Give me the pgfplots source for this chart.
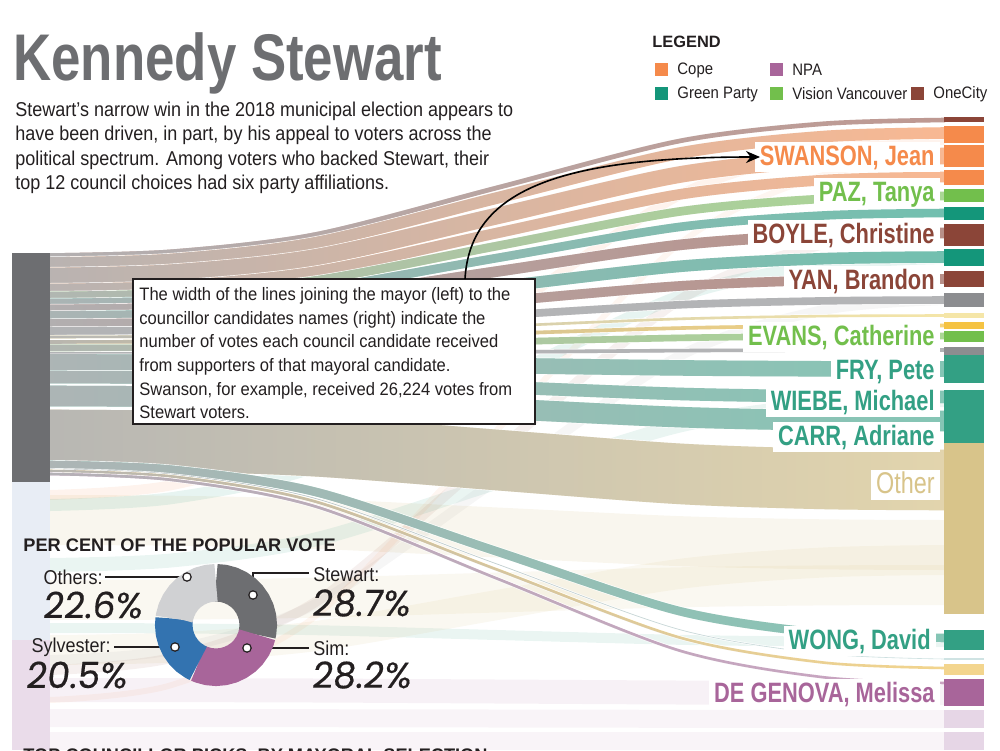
\documentclass[border=0pt]{standalone}
\usepackage{pgfplots}
\pgfplotsset{compat=1.18}
\usepgfplotslibrary{polar}
\usetikzlibrary{fadings,arrows.meta}
\usepackage{fontspec}
\setmainfont{Liberation Sans}
\newfontfamily\titlefont{Liberation Sans}[FakeStretch=0.80]
\newfontfamily\labfont{Liberation Sans}[FakeStretch=0.78]
\newfontfamily\bodyfont{Liberation Sans}[FakeStretch=0.90]
\newfontfamily\boxfont{Liberation Sans}[FakeStretch=0.92]
\newfontfamily\numfont{Poppins}[FakeSlant=0.12, FakeBold=0.4]

\definecolor{cCope}{HTML}{F58A4B}
\definecolor{cNPA}{HTML}{A8659A}
\definecolor{cGreen}{HTML}{14967A}
\definecolor{cGreenB}{HTML}{33A084}
\definecolor{cVision}{HTML}{72BF4C}
\definecolor{cOne}{HTML}{8B4538}
\definecolor{cGray}{HTML}{8C8D90}
\definecolor{cTan}{HTML}{D8C48A}
\definecolor{cGold}{HTML}{F5C342}
\definecolor{cLYel}{HTML}{F5E6A8}
\definecolor{cLGold}{HTML}{F3D58E}
\definecolor{cLTeal}{HTML}{CFE3E3}
\definecolor{cLPur}{HTML}{E6D6E6}
\definecolor{cStew}{HTML}{6D6E71}
\definecolor{cSylv}{HTML}{3373B0}
\definecolor{cOthers}{HTML}{D0D1D3}
\definecolor{cLBlue}{HTML}{E8EDF5}
\definecolor{cLPurL}{HTML}{EADCEA}
\definecolor{fadegray}{HTML}{B2B3B5}
\definecolor{ink}{HTML}{231F20}

\tikzfading[name=flowfade, left color=transparent!10, middle color=transparent!65, right color=transparent!100]

\tikzset{lab/.style={anchor=east, fill=white, inner xsep=2.5pt, inner ysep=1.2pt,
    text height=10.3pt, text depth=2.2pt,
    font=\labfont\bfseries\fontsize{14}{14}\selectfont}}

% Stewart flow: colour, width (pt), path points
\newcommand{\flow}[3]{%
  \addplot[white, line width=#2pt, smooth] coordinates {#3};
  \addplot[#1, line width=#2pt-0.7pt, smooth] coordinates {#3};
  \addplot[fadegray, line width=#2pt-0.7pt, smooth, path fading=flowfade] coordinates {#3};
}
% faint flow of other mayors
\newcommand{\fflow}[4]{%
  \addplot[#1, opacity=#2, line width=#3pt, smooth] coordinates {#4};
}
% node bar on the right: colour, top, bottom
\newcommand{\rnode}[3]{%
  \addplot[#1, line width=20pt] coordinates {(964,#2) (964,#3)};
}

\begin{document}
\begin{tikzpicture}
\begin{axis}[
  at={(0,0)}, anchor=south west,
  scale only axis, width=500pt, height=375pt,
  xmin=0, xmax=1000, ymin=0, ymax=750, y dir=reverse,
  hide axis, clip=false, no markers,
]
\coordinate (BL) at (axis cs:0,750);
\coordinate (TR) at (axis cs:1000,0);
\coordinate (donutc) at (axis cs:216,625);

% ---------- faint flows of the other mayoral candidates ----------
\fflow{cTan}{0.15}{25}{(50,520)(172,520.7)(316,523.9)(497,532.5)(679,541.1)(823,544.3)(945,545)}
\fflow{cCope}{0.10}{5}{(50,495)(172,485.1)(316,439.6)(497,317.5)(679,195.4)(823,150)(945,140)}
\fflow{cGreen}{0.10}{6}{(50,505)(172,498.1)(316,466.5)(497,381.5)(679,296.5)(823,264.9)(945,258)}
\fflow{cGreenB}{0.10}{7}{(50,565)(172,560.4)(316,539.3)(497,482.5)(679,425.7)(823,404.6)(945,400)}
\fflow{cTan}{0.12}{20}{(50,600)(172,599.6)(316,597.7)(497,592.5)(679,587.3)(823,585.4)(945,585)}
\fflow{cGreenB}{0.10}{5}{(50,628)(172,628.4)(316,630.2)(497,635)(679,639.8)(823,641.6)(945,642)}
\fflow{cTan}{0.12}{15}{(50,650)(172,647.5)(316,636)(497,605)(679,574)(823,562.5)(945,560)}
\fflow{cGray}{0.08}{5}{(50,660)(172,649.9)(316,603.8)(497,480)(679,356.2)(823,310.1)(945,300)}
\fflow{cOne}{0.08}{5}{(50,670)(172,657.7)(316,601.7)(497,451)(679,300.3)(823,244.3)(945,232)}
\fflow{cCope}{0.08}{3}{(50,700)(172,684.9)(316,615.8)(497,430)(679,244.2)(823,175.1)(945,160)}
\fflow{cNPA}{0.09}{12}{(50,690)(172,690.1)(316,690.5)(497,691.5)(679,692.5)(823,692.9)(945,693)}
\fflow{cNPA}{0.07}{9}{(50,718)(172,718)(316,718.2)(497,718.5)(679,718.8)(823,719)(945,719)}
\fflow{cNPA}{0.07}{9}{(50,741)(172,741)(316,741)(497,741)(679,741)(823,741)(945,741)}

% ---------- Stewart flows ----------
\flow{cOne!55!white}{3}{(50,255.5)(172,251.7)(316,234.4)(497,187.8)(679,141.1)(823,123.8)(945,120)}
\flow{cCope!60!white}{6.5}{(50,263)(172,259.4)(316,242.7)(497,198)(679,153.3)(823,136.6)(945,133)}
\flow{cCope!60!white}{9}{(50,276)(172,272.6)(316,257.3)(497,216)(679,174.7)(823,159.4)(945,156)}
\flow{cCope!60!white}{6}{(50,289)(172,285.9)(316,271.5)(497,233)(679,194.5)(823,180.1)(945,177)}
\flow{cVision!60!white}{5}{(50,296)(172,293.2)(316,280.4)(497,246)(679,211.6)(823,198.8)(945,196)}
\flow{cGreen!60!white}{5}{(50,303)(172,300.5)(316,289)(497,258)(679,227)(823,215.5)(945,213)}
\flow{cOne!60!white}{6}{(50,310)(172,307.8)(316,298)(497,271.5)(679,245)(823,235.2)(945,233)}
\flow{cGreen!60!white}{6.5}{(50,317)(172,315.3)(316,307.6)(497,287)(679,266.4)(823,258.7)(945,257)}
\flow{cOne!60!white}{5.5}{(50,324)(172,322.7)(316,317)(497,301.5)(679,286)(823,280.3)(945,279)}
\flow{cGray!65!white}{4.5}{(50,331)(172,330.1)(316,326.2)(497,315.5)(679,304.8)(823,300.9)(945,300)}
\flow{cLYel}{2}{(50,337)(172,336.4)(316,333.6)(497,326.3)(679,318.9)(823,316.1)(945,315.5)}
\flow{cGold!70!white}{2.5}{(50,342)(172,341.5)(316,339.4)(497,333.8)(679,328.1)(823,326)(945,325.5)}
\flow{cVision!60!white}{4}{(50,348)(172,347.7)(316,346.1)(497,342)(679,337.9)(823,336.3)(945,336)}
\flow{cGray!65!white}{2.5}{(50,354)(172,353.9)(316,353.4)(497,352)(679,350.6)(823,350.1)(945,350)}
\flow{cGreenB!60!white}{8.5}{(50,362)(172,362.2)(316,363.1)(497,365.5)(679,367.9)(823,368.8)(945,369)}
\flow{cGreenB!60!white}{7}{(50,377)(172,377.6)(316,380.1)(497,387)(679,393.9)(823,396.4)(945,397)}
\flow{cGreenB!60!white}{11}{(50,396)(172,396.7)(316,399.9)(497,408.5)(679,417.1)(823,420.3)(945,421)}
\flow{cTan!70!white}{31}{(50,440)(172,441.1)(316,446.2)(497,460)(679,473.8)(823,478.9)(945,480)}
\flow{cGreenB!60!white}{5}{(50,465)(172,469.8)(316,492)(497,551.5)(679,611)(823,633.2)(945,638)}
\flow{cLTeal}{1}{(50,469)(172,474.3)(316,498.6)(497,564)(679,629.4)(823,653.7)(945,659)}
\flow{cLGold}{2}{(50,471)(172,476.5)(316,501.7)(497,569.5)(679,637.3)(823,662.5)(945,668)}
\flow{cNPA!60!white}{2}{(50,474)(172,479.9)(316,506.6)(497,578.5)(679,650.4)(823,677.2)(945,683)}

% ---------- mayor nodes (left) ----------
\addplot[cStew, line width=19pt] coordinates {(31,253) (31,482)};
\addplot[cLBlue, line width=19pt] coordinates {(31,482) (31,640)};
\addplot[cLPurL, line width=19pt] coordinates {(31,640) (31,750)};

% ---------- council nodes (right) ----------
\rnode{cOne}{117}{122}
\rnode{cCope}{126}{143}
\rnode{cCope}{145}{167}
\rnode{cCope}{170}{185}
\rnode{cVision}{189}{202}
\rnode{cGreen}{207}{220}
\rnode{cOne}{224}{246}
\rnode{cGreen}{249}{266}
\rnode{cOne}{271}{287}
\rnode{cGray}{293}{307}
\rnode{cLYel}{313}{318}
\rnode{cGold}{322}{329}
\rnode{cVision}{331}{342}
\rnode{cGray}{347}{355}
\rnode{cGreenB}{355}{383}
\rnode{cGreenB}{390}{416}
\rnode{cGreenB}{416}{443}
\rnode{cTan}{443}{614}
\rnode{cGreenB}{630}{650}
\rnode{cLTeal}{658}{660}
\rnode{cLGold}{664}{675}
\rnode{cNPA}{679}{706}
\rnode{cLPur}{710}{728}
\rnode{cLPur}{732}{750}

% ---------- candidate labels ----------
\node[lab, text=cCope] at (axis cs:940,157) {SWANSON, Jean};
\node[lab, text=cVision] at (axis cs:940,193) {PAZ, Tanya};
\node[lab, text=cOne] at (axis cs:940,235) {BOYLE, Christine};
\node[lab, text=cOne] at (axis cs:940,281) {YAN, Brandon};
\node[lab, text=cVision] at (axis cs:940,337) {EVANS, Catherine};
\node[lab, text=cGreenB] at (axis cs:940,371) {FRY, Pete};
\node[lab, text=cGreenB] at (axis cs:940,402) {WIEBE, Michael};
\node[lab, text=cGreenB] at (axis cs:940,437) {CARR, Adriane};
\node[lab, text=cTan, font=\labfont\fontsize{15}{15}\selectfont] at (axis cs:940,485) {Other};
\node[lab, text=cGreenB] at (axis cs:936,641) {WONG, David};
\node[lab, text=cNPA] at (axis cs:940,694) {DE GENOVA, Melissa};

% ---------- title and intro ----------
\node[anchor=base west, inner sep=0, text=cStew,
  font=\titlefont\bfseries\fontsize{33}{33}\selectfont] at (axis cs:13,80) {Kennedy Stewart};
\node[anchor=north west, inner sep=0, align=left, text=ink,
  font=\bodyfont\fontsize{10}{12.2}\selectfont] at (axis cs:15,101.5)
  {Stewart’s narrow win in the 2018 municipal election appears to\\
   have been driven, in part, by his appeal to voters across the\\
   political spectrum. Among voters who backed Stewart, their\\
   top 12 council choices had six party affiliations.};

% ---------- legend ----------
\node[anchor=base west, inner sep=0, text=ink,
  font=\bfseries\fontsize{8.2}{8.2}\selectfont] at (axis cs:652,47) {LEGEND};
\fill[cCope] (axis cs:655,63) rectangle (axis cs:668,76);
\fill[cNPA] (axis cs:770,63) rectangle (axis cs:783,76);
\fill[cGreen] (axis cs:655,87) rectangle (axis cs:668,100);
\fill[cVision] (axis cs:770,87) rectangle (axis cs:783,100);
\fill[cOne] (axis cs:911,87) rectangle (axis cs:924,100);
\begin{scope}[every node/.style={anchor=west, inner sep=0, text=ink,
    font=\bodyfont\fontsize{8.3}{8.3}\selectfont}]
\node at (axis cs:677,70) {Cope};
\node at (axis cs:792,70) {NPA};
\node at (axis cs:677,94) {Green Party};
\node at (axis cs:792,94) {Vision Vancouver};
\node at (axis cs:933,94) {OneCity};
\end{scope}

% ---------- annotation ----------
\draw[fill=white, draw=ink, line width=0.6pt] (axis cs:133,279) rectangle (axis cs:535,424);
\node[anchor=north west, inner sep=0, align=left, text=ink,
  font=\boxfont\fontsize{9}{11.85}\selectfont] at (axis cs:139,287)
  {The width of the lines joining the mayor (left) to the\\
   councillor candidates names (right) indicate the\\
   number of votes each council candidate received\\
   from supporters of that mayoral candidate.\\
   Swanson, for example, received 26,224 votes from\\
   Stewart voters.};
\draw[line width=0.8pt, -{Stealth[length=7pt, width=6pt]}]
  (axis cs:465,279) .. controls (axis cs:470,190) and (axis cs:560,157) .. (axis cs:760,157);

% ---------- donut annotation ----------
\node[anchor=base west, inner sep=0, text=ink,
  font=\bfseries\fontsize{9.1}{9.1}\selectfont] at (axis cs:23,551) {PER CENT OF THE POPULAR VOTE};
\node[anchor=base west, inner sep=0, text=ink,
  font=\bfseries\fontsize{9.1}{9.1}\selectfont] at (axis cs:23,761) {TOP COUNCILLOR PICKS, BY MAYORAL SELECTION};
\coordinate (cSt) at (axis cs:253,595);
\coordinate (cSi) at (axis cs:247,648);
\coordinate (cSy) at (axis cs:175,647);
\coordinate (cOt) at (axis cs:187,577);
\draw[ink, line width=0.7pt] (axis cs:253,595) -- (axis cs:253,573) -- (axis cs:309,573);
\draw[ink, line width=0.7pt] (axis cs:247,648) -- (axis cs:309,648);
\draw[ink, line width=0.7pt] (axis cs:175,647) -- (axis cs:114,647);
\draw[ink, line width=0.7pt] (axis cs:187,577) -- (axis cs:105,577);
\begin{scope}[every node/.style={inner sep=0, text=ink, font=\bodyfont\fontsize{10}{10}\selectfont}]
\node[anchor=east] at (axis cs:103,577) {Others:};
\node[anchor=east] at (axis cs:111,647) {Sylvester:};
\node[anchor=west] at (axis cs:313,575) {Stewart:};
\node[anchor=west] at (axis cs:313,648) {Sim:};
\end{scope}
\begin{scope}[every node/.style={anchor=west, inner sep=0, text=ink, font=\numfont\fontsize{18}{18}\selectfont}]
\node at (axis cs:42,605) {22.6\%};
\node at (axis cs:25,675) {20.5\%};
\node at (axis cs:311,603) {28.7\%};
\node at (axis cs:311,675) {28.2\%};
\end{scope}
\end{axis}

\begin{polaraxis}[
  at={(donutc)}, anchor=center,
  scale only axis, width=61pt, height=61pt,
  ymin=0, ymax=61, hide axis, clip=false, no markers]
% Stewart 28.7 %
\addplot[cStew, line width=18.75pt] coordinates {(90,42.25)(80,42.25)(70,42.25)(60,42.25)(50,42.25)(40,42.25)(30,42.25)(20,42.25)(10,42.25)(0,42.25)(-10,42.25)(-13.32,42.25)};
% Sim 28.2 %
\addplot[cNPA, line width=18.75pt] coordinates {(-13.32,42.25)(-20,42.25)(-30,42.25)(-40,42.25)(-50,42.25)(-60,42.25)(-70,42.25)(-80,42.25)(-90,42.25)(-100,42.25)(-110,42.25)(-114.84,42.25)};
% Sylvester 20.5 %
\addplot[cSylv, line width=18.75pt] coordinates {(-114.84,42.25)(-120,42.25)(-130,42.25)(-140,42.25)(-150,42.25)(-160,42.25)(-170,42.25)(-180,42.25)(-188.64,42.25)};
% Others 22.6 %
\addplot[cOthers, line width=18.75pt] coordinates {(-188.64,42.25)(-190,42.25)(-200,42.25)(-210,42.25)(-220,42.25)(-230,42.25)(-240,42.25)(-250,42.25)(-260,42.25)(-270,42.25)};
\end{polaraxis}

\foreach \c in {cSt,cSi,cSy,cOt} {\draw[ink, fill=white, line width=0.6pt] (\c) circle[radius=2.1pt];}

\pgfresetboundingbox
\path (BL) rectangle (TR);
\end{tikzpicture}
\end{document}
